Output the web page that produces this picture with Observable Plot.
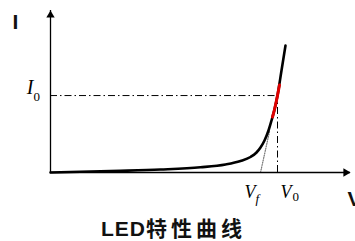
<!DOCTYPE html>
<html><head><meta charset="utf-8">
<script src="https://cdn.jsdelivr.net/npm/d3@7"></script>
<script src="https://cdn.jsdelivr.net/npm/@observablehq/plot@0.6"></script>
<style>
html,body{margin:0;padding:0;background:#fff;}
#wrap{position:relative;width:355px;height:241px;overflow:hidden;}
#title{position:absolute;top:211px;left:0;width:347px;height:32px;text-align:center;font-family:'Liberation Sans','Noto Sans CJK SC',sans-serif;font-weight:bold;font-size:21px;line-height:32px;color:#111;white-space:nowrap;}
</style></head><body>
<div id="wrap"><div id="chart"></div><div id="title"><span style="font-family:'Liberation Sans',Arial,sans-serif;letter-spacing:1px">LED</span><span style="font-family:'Noto Sans CJK SC',sans-serif;letter-spacing:4px">特性曲线</span></div></div>
<script>
// I-V curve (voltage in V, current in mA)
const voltage = [0, 0.30, 0.70, 1.10, 1.50, 1.75, 1.90, 2.00, 2.06, 2.10, 2.14, 2.18, 2.21, 2.24, 2.27, 2.31, 2.35];
const current = [0, 0.17, 0.42, 0.74, 1.28, 1.98, 2.84, 3.83, 4.94, 6.17, 7.90, 10.37, 12.84, 15.56, 19.01, 25.19, 31.36];
// highlighted (red) part of the curve around the operating point
const redVoltage = [2.22, 2.24, 2.27, 2.29];
const redCurrent = [13.7, 15.56, 19.01, 21.6];
// operating point and threshold
const V0 = 2.27, I0 = 19.0, Vf = 2.10;
// dotted tangent from Vf
const tangentVoltage = [2.10, 2.19];
const tangentCurrent = [0, 10.1];
const xMax = 3, yMax = 40;
const axisLabels = {x: "V", y: "I"};

const curve = voltage.map((v, i) => ({v, i: current[i]}));
const red = redVoltage.map((v, k) => ({v, i: redCurrent[k]}));
const tangent = tangentVoltage.map((v, k) => ({v, i: tangentCurrent[k]}));

const serif = "'Liberation Serif','Times New Roman',serif";
const sans = "'Liberation Sans',Arial,sans-serif";
const dashDot = "7,3,1.5,3";

const chart = Plot.plot({
  width: 355, height: 212,
  marginTop: 10, marginBottom: 40, marginLeft: 50, marginRight: 5,
  x: {domain: [0, xMax], axis: null},
  y: {domain: [0, yMax], axis: null},
  style: {background: "#fff", overflow: "visible"},
  marks: [
    Plot.ruleY([I0], {x1: 0, x2: V0, stroke: "#000", strokeWidth: 1, strokeDasharray: dashDot}),
    Plot.ruleX([V0], {y1: 0, y2: I0, stroke: "#000", strokeWidth: 1, strokeDasharray: dashDot}),
    Plot.line(tangent, {x: "v", y: "i", stroke: "#777", strokeWidth: 1.2, strokeDasharray: "1,1.4"}),
    Plot.ruleX([0], {y1: 0, y2: yMax, stroke: "#000", strokeWidth: 1.3}),
    Plot.ruleY([0], {x1: 0, x2: xMax, stroke: "#000", strokeWidth: 1.3}),
    Plot.dot([0], {x: 0, y: yMax, symbol: "triangle", r: 3.1, fill: "#000", stroke: null, dy: 4.7}),
    Plot.dot([0], {x: xMax, y: 0, symbol: "triangle", r: 3.1, fill: "#000", stroke: null, rotate: 90, dx: -4.7}),
    Plot.line(curve, {x: "v", y: "i", stroke: "#000", strokeWidth: 2.6, curve: "monotone-x"}),
    Plot.line(red, {x: "v", y: "i", stroke: "#e00000", strokeWidth: 3, curve: "monotone-x"}),
    Plot.text([axisLabels.y], {x: 0, y: yMax, text: d => d, dx: -35, dy: 11.5, fontFamily: sans, fontWeight: "bold", fontSize: 21, fill: "#111"}),
    Plot.text([axisLabels.x], {x: xMax, y: 0, text: d => d, dx: -3, dy: 33, textAnchor: "start", lineAnchor: "bottom", fontFamily: sans, fontWeight: "bold", fontSize: 21, fill: "#111"}),
    Plot.text(["I"], {x: 0, y: I0, text: d => d, dx: -17, dy: -2, textAnchor: "end", lineAnchor: "bottom", fontFamily: serif, fontStyle: "italic", fontSize: 20, fill: "#000"}),
    Plot.text(["0"], {x: 0, y: I0, text: d => d, dx: -17, dy: 5, textAnchor: "start", lineAnchor: "bottom", fontFamily: serif, fontSize: 13, fill: "#000"}),
    Plot.text(["V"], {x: Vf, y: 0, text: d => d, dx: -5, dy: 25, textAnchor: "end", lineAnchor: "bottom", fontFamily: serif, fontStyle: "italic", fontSize: 18, fill: "#000"}),
    Plot.text(["f"], {x: Vf, y: 0, text: d => d, dx: -5, dy: 30, textAnchor: "start", lineAnchor: "bottom", fontFamily: serif, fontStyle: "italic", fontSize: 13, fill: "#000"}),
    Plot.text(["V"], {x: V0, y: 0, text: d => d, dx: 3, dy: 25, textAnchor: "start", lineAnchor: "bottom", fontFamily: serif, fontStyle: "italic", fontSize: 18, fill: "#000"}),
    Plot.text(["0"], {x: V0, y: 0, text: d => d, dx: 15, dy: 28, textAnchor: "start", lineAnchor: "bottom", fontFamily: serif, fontSize: 13, fill: "#000"})
  ]
});
document.getElementById("chart").appendChild(chart);
</script>
</body></html>
